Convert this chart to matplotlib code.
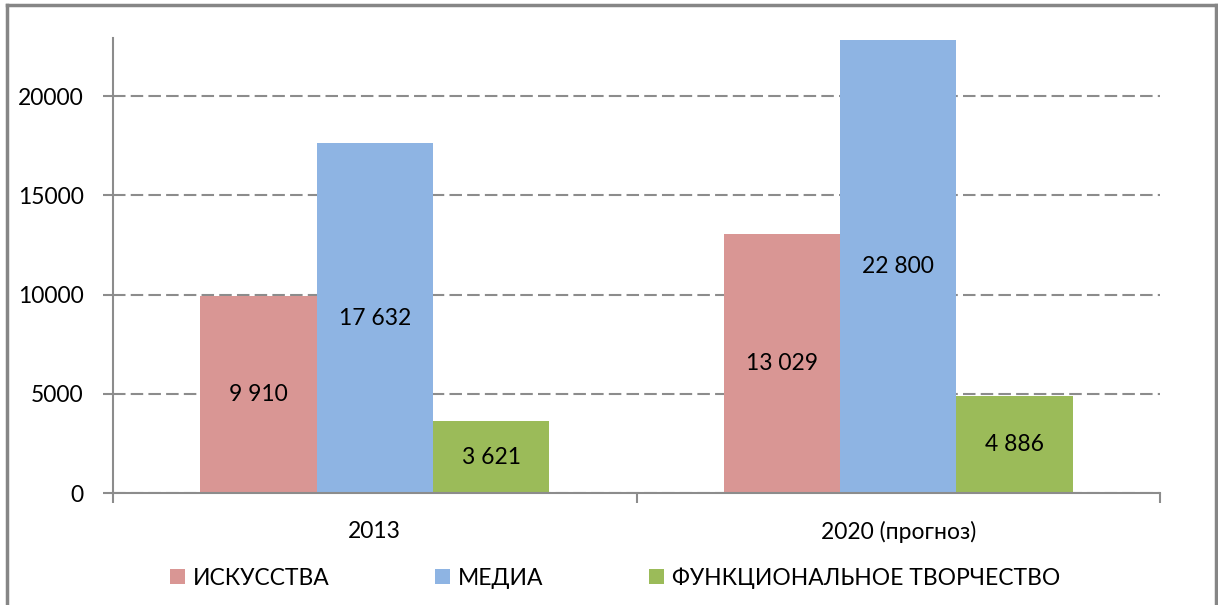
import numpy as np
import matplotlib.pyplot as plt
from matplotlib.lines import Line2D

categories = ["2013", "2020 (прогноз)"]
series_names = ["ИСКУССТВА", "МЕДИА", "ФУНКЦИОНАЛЬНОЕ ТВОРЧЕСТВО"]
iskusstva = [9910, 13029]
media = [17632, 22800]
funkc = [3621, 4886]
label_text = [["9 910", "13 029"], ["17 632", "22 800"], ["3 621", "4 886"]]
colors = ["#D99694", "#8EB4E3", "#9BBB59"]

plt.rcParams['font.family'] = ['Lato', 'DejaVu Sans']
FS = 16.5
GRAY = "#8C8C8C"

fig = plt.figure(figsize=(12.18, 6.05), dpi=100)
ax = fig.add_axes([113 / 1218, 1 - 493 / 605, (1160 - 113) / 1218, (493 - 38) / 605])

x = np.arange(len(categories)) + 0.5
w = 1 / 4.5
values = [iskusstva, media, funkc]
for i, (vals, col, name) in enumerate(zip(values, colors, series_names)):
    bars = ax.bar(x + (i - 1) * w, vals, width=w, color=col, label=name, zorder=2)
    for b, v, t in zip(bars, vals, label_text[i]):
        ax.text(b.get_x() + b.get_width() / 2, v / 2, t, ha="center", va="center",
                fontsize=FS, color="black", zorder=3)

ax.set_xlim(0, 2)
ax.set_ylim(0, 22925)
ax.set_yticks([0, 5000, 10000, 15000, 20000])
ax.set_xticks([0, 1, 2])
ax.set_xticklabels([])
ax.set_xticks(x, minor=True)
ax.set_xticklabels(categories, minor=True)
ax.tick_params(axis="x", which="minor", length=0, pad=20, labelsize=FS)
ax.tick_params(axis="x", which="major", length=7, width=1.5, color=GRAY, direction="out")
ax.tick_params(axis="y", length=7, width=1.5, color=GRAY, direction="out", pad=14, labelsize=FS)

ax.yaxis.grid(True, linestyle=(0, (6, 2.5)), color=GRAY, linewidth=1.5, zorder=1)
ax.set_axisbelow(True)
for s in ["top", "right"]:
    ax.spines[s].set_visible(False)
for s in ["left", "bottom"]:
    ax.spines[s].set_color(GRAY)
    ax.spines[s].set_linewidth(1.5)

fig.legend(loc="center", bbox_to_anchor=(0.505, 1 - 578 / 605), ncol=3, frameon=False,
           fontsize=FS, handlelength=0.65, handleheight=0.65, handletextpad=0.35,
           columnspacing=4.6)

# outer chart border
for xs, ys in [([7, 1216], [5, 5]), ([7, 7], [5, 610]), ([1216, 1216], [5, 610])]:
    fig.add_artist(Line2D([v / 1218 for v in xs], [1 - v / 605 for v in ys],
                          color="#868686", linewidth=2.5))

fig.savefig("out.png", dpi=100)
